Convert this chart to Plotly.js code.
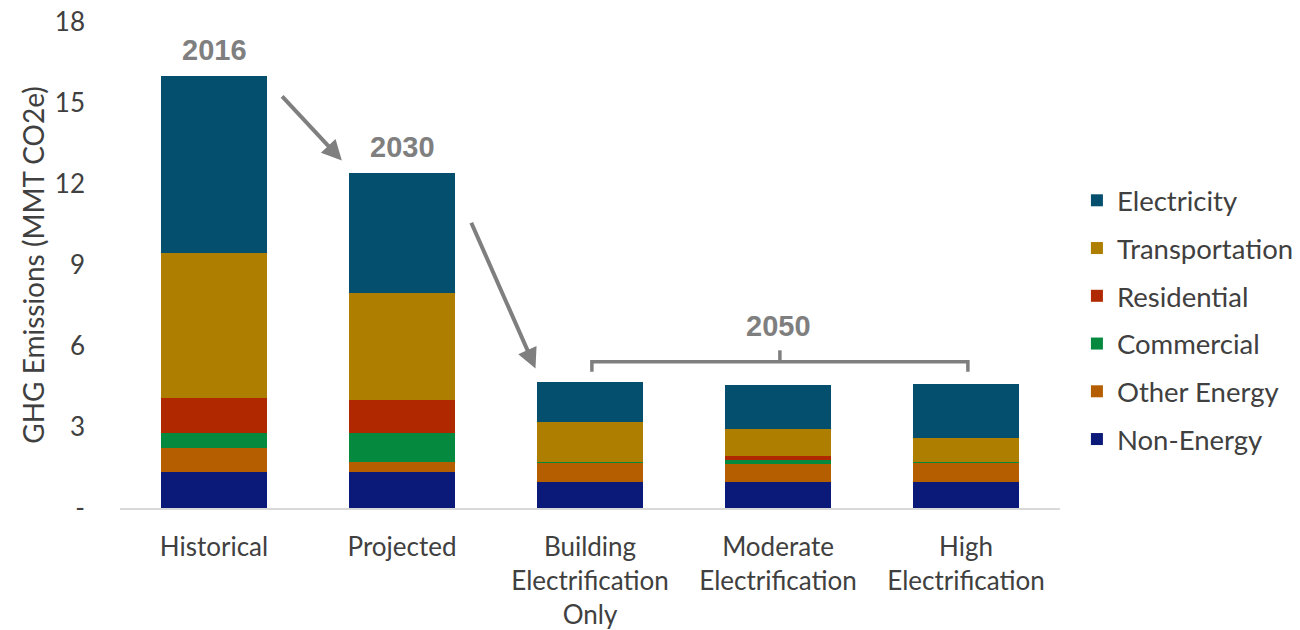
<!DOCTYPE html>
<html>
<head>
<meta charset="utf-8">
<script src="https://cdn.plot.ly/plotly-3.0.1.min.js"></script>
<style>html,body{margin:0;padding:0;background:#fff;}#chart{width:1300px;height:630px;}</style>
</head>
<body>
<div id="chart"></div>
<script>
const categories = ["Historical", "Projected", "Building<br>Electrification<br>Only", "Moderate<br>Electrification", "High<br>Electrification"];
const nonEnergy      = [1.34, 1.34, 0.95, 0.95, 0.95];
const otherEnergy    = [0.89, 0.35, 0.73, 0.67, 0.73];
const commercial     = [0.53, 1.10, 0.03, 0.15, 0.03];
const residential    = [1.30, 1.21, 0.00, 0.17, 0.00];
const transportation = [5.38, 3.95, 1.46, 0.99, 0.88];
const electricity    = [6.56, 4.47, 1.50, 1.63, 2.00];
const yTickVals  = [0, 3, 6, 9, 12, 15, 18];
const yTickText  = ["-", "3", "6", "9", "12", "15", "18"];
const yearLabels = ["2016", "2030", "2050"];

const series = [
  {name: "Non-Energy", y: nonEnergy, color: "#0B1A78"},
  {name: "Other Energy", y: otherEnergy, color: "#B55E00"},
  {name: "Commercial", y: commercial, color: "#05893F"},
  {name: "Residential", y: residential, color: "#B02800"},
  {name: "Transportation", y: transportation, color: "#AE7E00"},
  {name: "Electricity", y: electricity, color: "#044F6E"}
];

const idx = categories.map((_, i) => i);
const traces = series.map((s, i) => ({
  type: "bar",
  name: s.name,
  x: idx,
  y: s.y,
  legendgroup: s.name,
  legendrank: series.length - i,
  marker: {color: s.color, line: {width: 0}},
  hoverinfo: "name+y"
}));

const totals = idx.map(i => series.reduce((a, s) => a + s.y[i], 0));
const gray = "#7F7F7F";
const labelFont = {family: "Liberation Sans, Arial, sans-serif", size: 29, color: gray, weight: "bold"};

const bracketY = Math.max(totals[2], totals[3], totals[4]) + 0.75;
const annotations = [
  {x: 0, y: totals[0] + 0.3, text: "<b>" + yearLabels[0] + "</b>", showarrow: false, yanchor: "bottom", font: labelFont},
  {x: 1, y: totals[1] + 0.3, text: "<b>" + yearLabels[1] + "</b>", showarrow: false, yanchor: "bottom", font: labelFont},
  {x: 3, y: bracketY + 0.66, text: "<b>" + yearLabels[2] + "</b>", showarrow: false, yanchor: "bottom", font: labelFont},
  {x: 0.68, y: totals[1] + 0.45, ax: 0.355, ay: totals[0] - 0.7, axref: "x", ayref: "y", xref: "x", yref: "y",
   text: "", showarrow: true, arrowhead: 2, arrowsize: 1, arrowwidth: 4, arrowcolor: gray},
  {x: 1.71, y: totals[2] + 0.5, ax: 1.365, ay: totals[1] - 1.8, axref: "x", ayref: "y", xref: "x", yref: "y",
   text: "", showarrow: true, arrowhead: 2, arrowsize: 1, arrowwidth: 4, arrowcolor: gray}
];

const shapes = [
  {type: "path", xref: "x", yref: "y",
   path: `M 2.01 ${bracketY - 0.37} L 2.01 ${bracketY} L 4.01 ${bracketY} L 4.01 ${bracketY - 0.37}`,
   line: {color: gray, width: 3.5}},
  {type: "line", xref: "x", yref: "y", x0: 3.01, x1: 3.01, y0: bracketY, y1: bracketY + 0.42,
   line: {color: gray, width: 3.5}}
];

const layout = {
  width: 1300, height: 630,
  margin: {l: 120, r: 240, t: 22, b: 122, autoexpand: false},
  paper_bgcolor: "#fff", plot_bgcolor: "#fff",
  barmode: "stack",
  bargap: 0.44,
  font: {family: "Lato, Carlito, Calibri, sans-serif", color: "#404040"},
  xaxis: {
    tickmode: "array", tickvals: idx, ticktext: categories,
    range: [-0.5, 4.5],
    showline: true, linecolor: "#D9D9D9", linewidth: 2,
    ticks: "", showgrid: false, zeroline: false,
    ticklabelstandoff: 15,
    tickfont: {size: 26, color: "#404040"}
  },
  yaxis: {
    range: [0, 18],
    tickmode: "array", tickvals: yTickVals, ticktext: yTickText,
    showgrid: false, zeroline: false, showline: false, ticks: "",
    ticklabelstandoff: 34,
    tickfont: {size: 26, color: "#404040"},
    title: {text: "GHG Emissions (MMT CO2e)", font: {size: 28, color: "#404040"}, standoff: 2}
  },
  legend: {
    x: 1.018, y: 0.387, xanchor: "left", yanchor: "middle",
    traceorder: "grouped", tracegroupgap: 9,
    font: {size: 27.5, color: "#404040"},
    itemwidth: 30
  },
  annotations: annotations,
  shapes: shapes,
  showlegend: true
};

Plotly.newPlot("chart", traces, layout, {displayModeBar: false, staticPlot: true});
</script>
</body>
</html>
